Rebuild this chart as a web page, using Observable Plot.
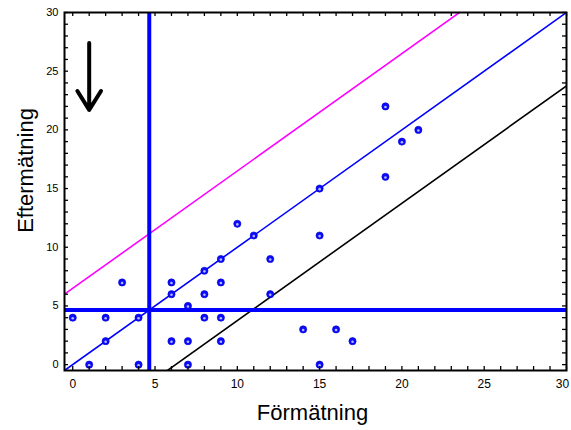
<!DOCTYPE html>
<html><head><meta charset="utf-8">
<script src="https://cdn.jsdelivr.net/npm/d3@7"></script>
<script src="https://cdn.jsdelivr.net/npm/@observablehq/plot@0.6"></script>
<style>body{margin:0;background:#fff} svg{display:block}</style>
</head><body><div id="chart"></div>
<script>
// Data
const formatning  = [0,1,2,2,3,4,4,6,6,6,7,7,7,8,8,8,9,9,9,9,10,11,12,12,14,15,15,15,16,17,19,19,20,21];
const eftermatning = [4,0,4,2,7,4,0,7,6,2,5,2,0,8,6,4,9,7,4,2,12,11,9,6,3,15,11,0,3,2,22,16,19,20];
const xTickLabels = [0,5,10,15,20,25];
const xLastTickLabel = [30];
const yTickLabels = [0,5,10,15,20,25,30];
const minorTicks = d3.range(0, 31, 1);
const cutoffX = 4.65;
const cutoffY = 4.65;
const lineNames = ["upper", "identity", "lower"];
const lineIntercepts = [6.5, 0, -6.25];
const lineColors = ["#ff00ff", "#0000ff", "#000000"];
const arrowX = [1];
const arrowYStart = [27.4];
const arrowYEnd = [21.7];

const xDomain = [-0.5, 30];
const yDomain = [-0.5, 30];

const points = formatning.map((x, i) => ({x, y: eftermatning[i]}));
const lines = lineNames.map((name, i) => ({
  name, color: lineColors[i],
  x1: xDomain[0], y1: xDomain[0] + lineIntercepts[i],
  x2: xDomain[1], y2: xDomain[1] + lineIntercepts[i]
}));
const arrows = arrowX.map((x, i) => ({x, y1: arrowYStart[i], y2: arrowYEnd[i]}));

const frameH = 430 - 12 - 60;
const frameW = 571 - 64 - 5;

const chart = Plot.plot({
  width: 571, height: 430,
  marginLeft: 64, marginRight: 5, marginTop: 12, marginBottom: 60,
  style: {fontFamily: "Liberation Sans, Arial, sans-serif", background: "#fff", color: "#000"},
  x: {domain: xDomain, label: null},
  y: {domain: yDomain, label: null},
  marks: [
    Plot.link(lines, {x1: "x1", y1: "y1", x2: "x2", y2: "y2", stroke: "color", strokeWidth: 1.6, clip: true}),
    Plot.ruleX([cutoffX], {stroke: "#0000ff", strokeWidth: 4}),
    Plot.ruleY([cutoffY], {stroke: "#0000ff", strokeWidth: 4}),
    Plot.dot(points, {x: "x", y: "y", r: 3.6, fill: "#0a0aff", stroke: "#0000cc", strokeWidth: 0.6}),
    Plot.dot(points, {x: "x", y: "y", r: 1.3, fill: "#b8b8ff", dy: 0.6}),
    Plot.arrow(arrows, {x: "x", y1: "y1", y2: "y2", stroke: "#000", strokeWidth: 4, headLength: 10, headAngle: 64}),
    // inward ticks on all four sides
    Plot.tickX(minorTicks, {x: d => d, insetTop: frameH - 4, stroke: "#000", strokeWidth: 1.3}),
    Plot.tickX(minorTicks, {x: d => d, insetBottom: frameH - 4, stroke: "#000", strokeWidth: 1.3}),
    Plot.tickY(minorTicks, {y: d => d, insetRight: frameW - 4, stroke: "#000", strokeWidth: 1.3}),
    Plot.tickY(minorTicks, {y: d => d, insetLeft: frameW - 4, stroke: "#000", strokeWidth: 1.3}),
    Plot.frame({stroke: "#000", strokeWidth: 2}),
    Plot.axisX(xTickLabels, {tickSize: 0, tickPadding: 9, fontSize: 12, label: null}),
    Plot.axisX(xLastTickLabel, {tickSize: 0, tickPadding: 9, fontSize: 12, label: null, dx: -4}),
    Plot.axisY(yTickLabels, {tickSize: 0, tickPadding: 6, fontSize: 11, label: null}),
    Plot.text(["Förmätning"], {frameAnchor: "bottom", text: d => d, dx: -3, dy: 49, fontSize: 22, lineAnchor: "bottom", textAnchor: "middle"}),
    Plot.text(["Eftermätning"], {frameAnchor: "left", text: d => d, rotate: -90, dx: -32, dy: -21, fontSize: 22, lineAnchor: "bottom", textAnchor: "middle"})
  ]
});
document.getElementById("chart").appendChild(chart);
</script>
</body></html>
